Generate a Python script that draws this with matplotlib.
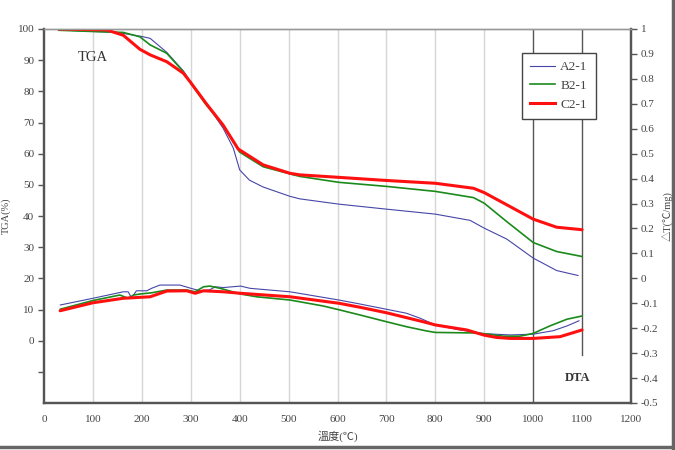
import matplotlib
matplotlib.use("Agg")
import matplotlib.pyplot as plt
from matplotlib.ticker import FixedLocator, FuncFormatter
from matplotlib.lines import Line2D

# TGA (%)
tga_a_t = [30, 100, 150, 200, 217, 251, 285, 300, 330, 366, 387, 400, 420, 448, 503, 523, 603, 700, 800, 871, 900, 946, 1000, 1048, 1092]
tga_a = [99.7, 99.2, 98.9, 97.6, 97.0, 92.5, 86.5, 83.0, 76.5, 68.2, 61.8, 54.8, 51.5, 49.3, 46.3, 45.5, 43.8, 42.2, 40.6, 38.6, 36.1, 32.6, 26.5, 22.5, 20.9]

tga_b_t = [30, 100, 162, 196, 217, 251, 285, 300, 330, 366, 400, 448, 503, 523, 603, 700, 800, 878, 900, 946, 1000, 1048, 1100]
tga_b = [99.6, 99.2, 98.9, 97.5, 94.9, 92.2, 86.3, 82.6, 76.0, 69.0, 60.5, 55.8, 53.5, 52.7, 50.8, 49.5, 47.9, 45.9, 44.1, 38.2, 31.5, 28.6, 27.0]

tga_c_t = [30, 128, 162, 196, 217, 251, 285, 300, 332, 366, 397, 448, 503, 523, 603, 700, 800, 878, 900, 946, 1000, 1048, 1100]
tga_c = [100.0, 99.7, 98.0, 93.5, 91.7, 89.5, 85.8, 82.8, 76.0, 69.2, 61.5, 56.4, 53.7, 53.2, 52.4, 51.4, 50.5, 48.9, 47.5, 43.6, 39.0, 36.4, 35.6]

# DTA (deg C / mg)
dta_a_t = [33, 100, 162, 172, 179, 189, 210, 220, 237, 278, 302, 319, 339, 350, 367, 402, 421, 503, 603, 646, 700, 741, 769, 800, 844, 900, 953, 1000, 1041, 1069, 1094]
dta_a = [-0.107, -0.08, -0.054, -0.054, -0.078, -0.05, -0.05, -0.04, -0.027, -0.027, -0.041, -0.05, -0.046, -0.034, -0.037, -0.031, -0.04, -0.054, -0.087, -0.103, -0.124, -0.14, -0.16, -0.187, -0.205, -0.222, -0.227, -0.224, -0.21, -0.191, -0.17]

dta_b_t = [33, 100, 155, 172, 183, 196, 220, 251, 292, 309, 326, 339, 360, 402, 435, 503, 571, 605, 646, 700, 741, 782, 800, 878, 900, 939, 973, 1000, 1034, 1069, 1100]
dta_b = [-0.124, -0.089, -0.067, -0.08, -0.067, -0.063, -0.058, -0.047, -0.047, -0.054, -0.034, -0.031, -0.04, -0.063, -0.074, -0.087, -0.111, -0.127, -0.147, -0.174, -0.194, -0.211, -0.217, -0.219, -0.222, -0.232, -0.232, -0.221, -0.191, -0.164, -0.151]

dta_c_t = [33, 100, 162, 217, 251, 292, 309, 326, 367, 402, 503, 603, 646, 700, 775, 800, 864, 900, 925, 953, 1000, 1055, 1100]
dta_c = [-0.13, -0.098, -0.08, -0.074, -0.051, -0.05, -0.06, -0.05, -0.054, -0.06, -0.074, -0.1, -0.116, -0.138, -0.174, -0.187, -0.207, -0.228, -0.237, -0.241, -0.241, -0.234, -0.207]

names = ["A2-1", "B2-1", "C2-1"]
colors = ["#4646a8", "#1b8a1b", "#ff1010"]
widths = [0.8, 1.2, 2.2]

serif = ["Liberation Serif", "Noto Sans CJK TC", "DejaVu Sans"]
plt.rcParams["font.family"] = serif
axis_col = "#555555"
text_col = "#444444"

fig = plt.figure(figsize=(6.75, 4.5), dpi=100)
ax = fig.add_axes([44 / 675, 1 - 403 / 450, 587 / 675, 374 / 450])
ax2 = ax.twinx()

ax.set_xlim(0, 1200)
ax.set_ylim(-20, 100)
ax2.set_ylim(-0.5, 1)

# vertical grid
for t in range(100, 1000, 100):
    ax.axvline(t, color="#d6d6d6", lw=1.0, zorder=0)
ax.axvline(1000, color="#555555", lw=1.0, zorder=1)
ax.axvline(1100, ymin=0.128, color="#555555", lw=1.0, zorder=1)

for tt, vv, c, w in zip([tga_a_t, tga_b_t, tga_c_t], [tga_a, tga_b, tga_c], colors, widths):
    ax.plot(tt, vv, color=c, lw=w, zorder=3, solid_joinstyle="round", solid_capstyle="round")
for tt, vv, c, w in zip([dta_a_t, dta_b_t, dta_c_t], [dta_a, dta_b, dta_c], colors, widths):
    ax2.plot(tt, vv, color=c, lw=w, zorder=3, solid_joinstyle="round", solid_capstyle="round")

ax.yaxis.set_major_locator(FixedLocator(list(range(-10, 101, 10))))
ax.yaxis.set_major_formatter(FuncFormatter(lambda v, p: "%d" % v if v >= 0 else ""))
ax.xaxis.set_major_locator(FixedLocator(list(range(0, 1201, 100))))
ax2.yaxis.set_major_locator(FixedLocator([i / 10 for i in range(-5, 11)]))
ax2.yaxis.set_major_formatter(FuncFormatter(lambda v, p: ("%.1f" % v).rstrip("0").rstrip(".") if abs(v) > 1e-9 else "0"))

ax.tick_params(axis="y", direction="out", length=4, width=1, colors=axis_col, labelsize=8, labelcolor=text_col, pad=3)
ax.tick_params(axis="x", length=0, labelsize=8, labelcolor=text_col, pad=9)
ax2.tick_params(axis="y", direction="out", length=4, width=1, colors=axis_col, labelsize=8, labelcolor=text_col, pad=3)

for a in (ax, ax2):
    for s in a.spines.values():
        s.set_color(axis_col)
    a.spines["left"].set_linewidth(1.6)
    a.spines["bottom"].set_linewidth(1.6)
    a.spines["right"].set_linewidth(1.6)
    a.spines["top"].set_linewidth(1.0)
    a.spines["top"].set_color("#999999")

ax.set_ylabel("TGA(%)", fontsize=7.5, color=text_col, labelpad=5)
ax.set_xlabel("溫度(℃)", fontsize=8, color=text_col, labelpad=4)
ax2.set_ylabel("△T(℃/mg)", fontsize=7.5, color=text_col, labelpad=3)

ax.text(70, 90.7, "TGA", fontsize=10.5, color="#333333", va="center")
ax.text(1090, -11.9, "DTA", fontsize=9, fontweight="bold", color="#333333", ha="center", va="center")

handles = [Line2D([], [], color=c, lw=w) for c, w in zip(colors, widths)]
leg = ax2.legend(handles, names, loc="upper left", bbox_to_anchor=(478 / 587, 1 - 24 / 374),
                 frameon=True, fancybox=False, framealpha=1, edgecolor="#444444",
                 fontsize=9.5, handlelength=1.9, handletextpad=0.4, labelspacing=0.5,
                 borderpad=0.6, borderaxespad=0)
leg.get_frame().set_linewidth(1.0)
for t in leg.get_texts():
    t.set_color(text_col)

# image frame on right and bottom
fig.add_artist(Line2D([0.997, 0.997], [0.005, 1], transform=fig.transFigure, color="#666666", lw=2.5))
fig.add_artist(Line2D([0, 0.997], [0.006, 0.006], transform=fig.transFigure, color="#666666", lw=2.5))

fig.savefig("out.png", dpi=100)
